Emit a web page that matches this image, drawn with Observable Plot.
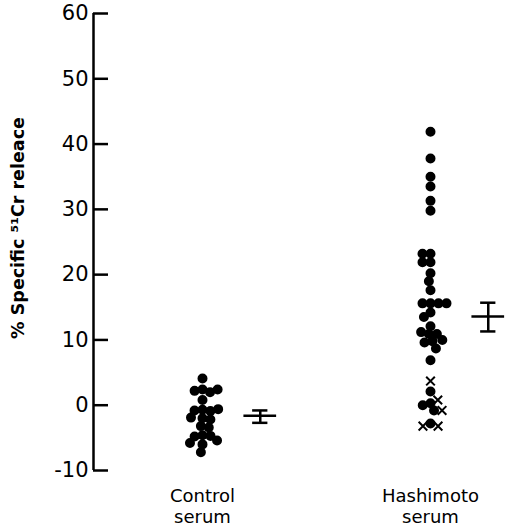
<!DOCTYPE html>
<html><head><meta charset="utf-8">
<script src="https://cdn.jsdelivr.net/npm/d3@7"></script>
<script src="https://cdn.jsdelivr.net/npm/@observablehq/plot@0.6"></script>
<style>
html,body{margin:0;padding:0;background:#fff}
</style></head><body><div id="chart"></div>
<script>
// ---- data ----
const groups = ["Control serum", "Hashimoto serum"];
const controlValues = [4.1, 2.4, 2.2, 2.0, 2.4, 0.8, -0.7, -0.8, -0.9, -0.6, -2.0, -1.9, -2.2, -3.2, -3.4, -4.6, -4.8, -4.7, -5.4, -6.0, -5.8, -7.2];
const hashimotoDotValues = [41.9, 37.8, 35.0, 33.5, 31.3, 29.8, 23.2, 23.2, 21.9, 21.9, 20.2, 19.0, 17.6, 15.6, 15.6, 15.6, 15.6, 14.2, 13.5, 12.1, 10.9, 10.9, 11.2, 9.8, 9.6, 10.0, 8.7, 6.9, 2.1, 0.3, 0.0, -0.8, -2.8];
const hashimotoCrossValues = [3.7, 0.8, -0.8, -3.2, -3.2];
const meanValues = [-1.6, 13.6];
const errLow = [-2.7, 11.3];
const errHigh = [-0.8, 15.7];
const yTicks = [-10, 0, 10, 20, 30, 40, 50, 60];
const yLabel = "% Specific \u2075\u00b9Cr releace";

// ---- tables ----
const points = [
  ...controlValues.map(v => ({group: groups[0], value: v, kind: "dot"})),
  ...hashimotoDotValues.map(v => ({group: groups[1], value: v, kind: "dot"})),
  ...hashimotoCrossValues.map(v => ({group: groups[1], value: v, kind: "cross"}))
];
const summary = groups.map((g, i) => ({group: g, mean: meanValues[i], lo: errLow[i], hi: errHigh[i]}));

const OFF = 0.53;   // horizontal place of the mean ± SE marker, in x units of each facet
const font = "'DejaVu Sans', sans-serif";

const chart = Plot.plot({
  width: 508, height: 530,
  marginTop: 13, marginBottom: 60, marginLeft: 93, marginRight: 0,
  style: {fontFamily: font, color: "black", background: "white"},
  fx: {domain: groups, range: [93, 539], paddingInner: 10 / 228, paddingOuter: 0, label: null},
  x: {domain: [-1, 1], axis: null},
  y: {domain: [-10, 60]},
  symbol: {domain: ["dot", "cross"], range: ["circle", "times"]},
  marks: [
    Plot.axisY({ticks: yTicks, tickSize: -15, tickPadding: 20, strokeWidth: 2.5, fontSize: 21, label: null, tickFormat: d => String(d)}),
    Plot.ruleX([groups[0]], {fx: d => d, x: -1, y1: -10, y2: 60, strokeWidth: 2.5}),
    Plot.axisFx({anchor: "bottom", tickSize: 0, tickPadding: 16, fontSize: 18, lineHeight: 1.2, tickFormat: d => d.replace(" ", "\n"), label: null}),
    Plot.text([yLabel], {fx: () => groups[0], frameAnchor: "left", textAnchor: "middle", rotate: -90, dx: -75, dy: -14, fontSize: 17.5, fontWeight: "bold"}),
    Plot.dot(points, Plot.dodgeX({anchor: "middle", y: "value", fx: "group", symbol: "kind", r: 4, fill: "black", stroke: "black", strokeWidth: 2, padding: 0})),
    Plot.ruleY(summary, {fx: "group", y: "mean", x1: OFF - 0.15, x2: OFF + 0.15, strokeWidth: 2.5}),
    Plot.ruleY(summary, {fx: "group", y: "lo", x1: OFF - 0.07, x2: OFF + 0.07, strokeWidth: 2.5}),
    Plot.ruleY(summary, {fx: "group", y: "hi", x1: OFF - 0.07, x2: OFF + 0.07, strokeWidth: 2.5}),
    Plot.ruleX(summary, {fx: "group", x: OFF, y1: "lo", y2: "hi", strokeWidth: 2.5})
  ]
});
document.getElementById("chart").appendChild(chart);
</script></body></html>
